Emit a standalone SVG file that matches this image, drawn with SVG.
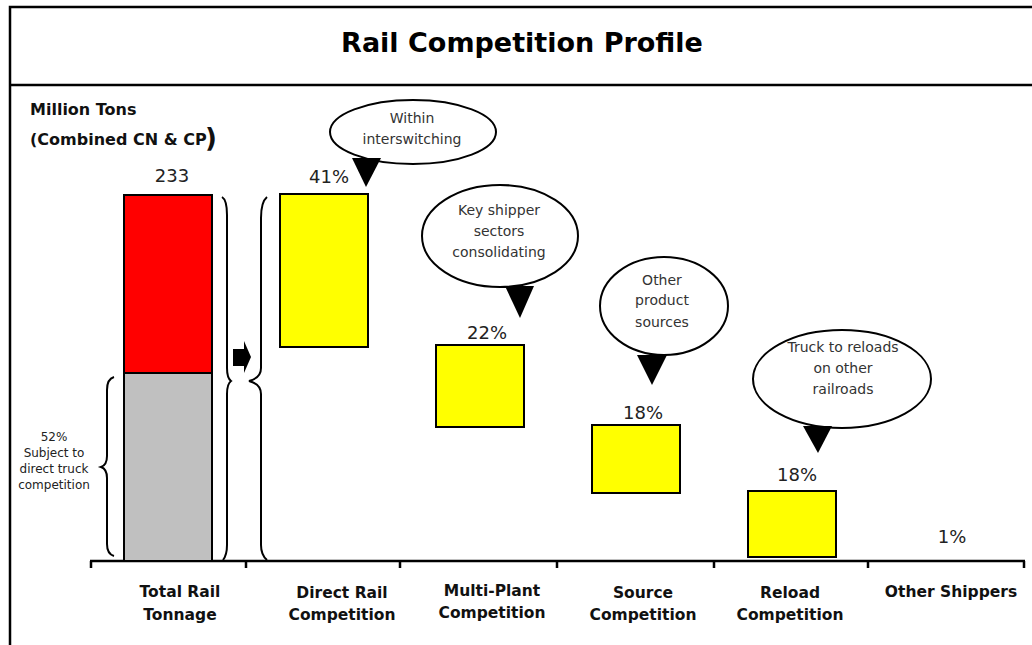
<svg xmlns="http://www.w3.org/2000/svg" width="1032" height="645" viewBox="0 0 1032 645">
<style>
.frame{fill:none;stroke:#000;stroke-width:2.5}
.bar{stroke:#000;stroke-width:2}
.yellow{fill:#ffff00}
.ell{fill:#fff;stroke:#000;stroke-width:2}
.tri{fill:#000}
.brace{fill:none;stroke:#000;stroke-width:2}
.axis{fill:none;stroke:#000;stroke-width:2.5}
.title{font-family:"DejaVu Sans",Verdana,sans-serif;font-weight:bold;font-size:27px;fill:#000;text-anchor:middle}
.cat{font-family:"DejaVu Sans",Verdana,sans-serif;font-weight:bold;font-size:15.5px;fill:#111;text-anchor:middle}
.hdr{font-family:"DejaVu Sans",Verdana,sans-serif;font-weight:bold;font-size:16px;fill:#111}
.pct{font-family:"DejaVu Sans",Verdana,sans-serif;font-size:18px;fill:#222;text-anchor:middle}
.call{font-family:"DejaVu Sans",Verdana,sans-serif;font-size:14px;fill:#333;text-anchor:middle}
.small{font-family:"DejaVu Sans",Verdana,sans-serif;font-size:12px;fill:#222;text-anchor:middle}
</style>
<rect width="1032" height="645" fill="#fff"/>
<g id="frame">
<polyline class="frame" points="10,645 10,7 1034,7"/>
<line class="frame" x1="10" y1="85" x2="1034" y2="85"/>
<text class="title" x="522" y="52">Rail Competition Profile</text>
</g>
<g id="yaxis-label">
<text class="hdr" x="30" y="115">Million Tons</text>
<text class="hdr" x="30" y="145">(Combined CN &amp; CP</text>
<text class="hdr" x="205" y="147" style="font-size:26px">)</text>
</g>
<g id="axis">
<line class="axis" x1="90" y1="561" x2="1025" y2="561"/>
<path class="axis" d="M91,561 V568 M246,561 V568 M400,561 V568 M557,561 V568 M714,561 V568 M868,561 V568 M1024,561 V568"/>
</g>
<g id="total">
<rect class="bar" x="124" y="195" width="88" height="178" fill="#ff0000"/>
<rect class="bar" x="124" y="373" width="88" height="188" fill="#c0c0c0"/>
<text class="pct" x="172" y="182">233</text>
<path class="brace" d="M114,377 Q107,379 107,390 L107,456 Q107,465 101,467 Q107,469 107,478 L107,544 Q107,554 114,556"/>
<text class="small" x="54" y="441">52%</text>
<text class="small" x="54" y="457">Subject to</text>
<text class="small" x="54" y="473">direct truck</text>
<text class="small" x="54" y="489">competition</text>
<text class="cat" x="180" y="597">Total Rail</text>
<text class="cat" x="180" y="620">Tonnage</text>
</g>
<g id="braces">
<path class="brace" d="M222,197 Q227,200 227,215 L227,368 Q227,378 231,381 Q227,384 227,394 L227,545 Q227,555 223,560"/>
<path class="brace" d="M267,197 Q261,202 261,218 L261,368 Q261,378 249,381 Q261,384 261,394 L261,545 Q261,555 267,560"/>
<polygon fill="#000" points="233,349 244,349 244,341 251,357 244,373 244,366 233,366"/>
</g>
<g id="direct">
<rect class="bar yellow" x="280" y="194" width="88" height="153"/>
<text class="pct" x="329" y="183">41%</text>
<text class="cat" x="342" y="598">Direct Rail</text>
<text class="cat" x="342" y="620">Competition</text>
</g>
<g id="callout-within">
<ellipse class="ell" cx="413" cy="132" rx="83" ry="32"/>
<polygon class="tri" points="352,158 381,158 366,187"/>
<text class="call" x="412" y="123">Within</text>
<text class="call" x="412" y="144">interswitching</text>
</g>
<g id="multi">
<rect class="bar yellow" x="436" y="345" width="88" height="82"/>
<text class="pct" x="487" y="339">22%</text>
<text class="cat" x="492" y="596">Multi-Plant</text>
<text class="cat" x="492" y="618">Competition</text>
</g>
<g id="callout-key">
<ellipse class="ell" cx="500" cy="236" rx="78" ry="51"/>
<polygon class="tri" points="505,286 534,286 520,318"/>
<text class="call" x="499" y="215">Key shipper</text>
<text class="call" x="499" y="236">sectors</text>
<text class="call" x="499" y="257">consolidating</text>
</g>
<g id="source">
<rect class="bar yellow" x="592" y="425" width="88" height="68"/>
<text class="pct" x="643" y="419">18%</text>
<text class="cat" x="643" y="598">Source</text>
<text class="cat" x="643" y="620">Competition</text>
</g>
<g id="callout-other">
<ellipse class="ell" cx="664" cy="306" rx="64" ry="49"/>
<polygon class="tri" points="637,355 667,355 652,385"/>
<text class="call" x="662" y="285">Other</text>
<text class="call" x="662" y="305">product</text>
<text class="call" x="662" y="327">sources</text>
</g>
<g id="reload">
<rect class="bar yellow" x="748" y="491" width="88" height="66"/>
<text class="pct" x="797" y="481">18%</text>
<text class="cat" x="790" y="598">Reload</text>
<text class="cat" x="790" y="620">Competition</text>
</g>
<g id="callout-truck">
<ellipse class="ell" cx="842" cy="379" rx="89" ry="49"/>
<polygon class="tri" points="803,426 832,426 818,453"/>
<text class="call" x="843" y="352">Truck to reloads</text>
<text class="call" x="843" y="373">on other</text>
<text class="call" x="843" y="394">railroads</text>
</g>
<g id="other">
<text class="pct" x="952" y="543">1%</text>
<text class="cat" x="951" y="597">Other Shippers</text>
</g>
</svg>
